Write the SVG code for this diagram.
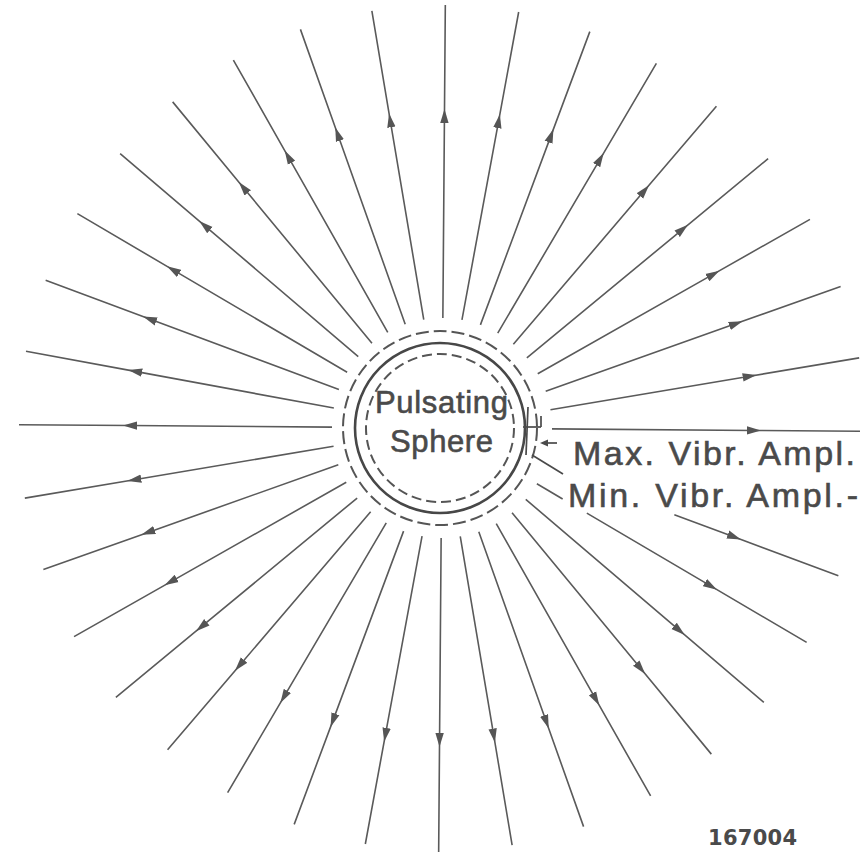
<svg xmlns="http://www.w3.org/2000/svg" width="860" height="852" viewBox="0 0 860 852">
<style>
.ray{fill:none;stroke:#5a5a5a;stroke-width:1.6;marker-mid:url(#ah)}
.seg{fill:none;stroke:#5a5a5a;stroke-width:1.6}
.lbl{font-family:"Liberation Sans",Arial,sans-serif;fill:#4a4a4a;stroke:#4a4a4a;stroke-width:0.6}
.num{font-family:"DejaVu Sans",sans-serif;font-weight:bold;fill:#4a4a4a}
</style>
<defs>
<marker id="ah" viewBox="-7 -4.5 14 9" markerWidth="14" markerHeight="9" refX="0" refY="0" orient="auto" markerUnits="userSpaceOnUse">
<path d="M7,0 L-7,-4.2 L-7,4.2 Z" fill="#555"/>
</marker>
</defs>
<rect width="860" height="852" fill="#fff"/>
<g id="connectors" transform="translate(1,0) rotate(0.45 441 428)">
<path class="ray" d="M551,428 L753,428 L864,428"/>
<path class="ray" d="M674,512.8 L734.2,534.7 L838.5,572.7"/>
<path class="seg" d="M536.3,483 L562.2,498"/>
<path class="ray" d="M586.5,512 L711.2,584 L807.3,639.5"/>
<path class="ray" d="M525.3,498.7 L680,628.6 L765,699.9"/>
<path class="ray" d="M511.7,512.3 L641.6,667 L712.9,752"/>
<path class="ray" d="M496,523.3 L597,698.2 L652.5,794.3"/>
<path class="ray" d="M478.6,531.4 L547.7,721.2 L585.7,825.5"/>
<path class="ray" d="M460.1,536.3 L495.2,735.3 L514.4,844.6"/>
<path class="ray" d="M441,538 L441,740 L441,853"/>
<path class="ray" d="M421.9,536.3 L386.8,735.3 L367.6,844.6"/>
<path class="ray" d="M403.4,531.4 L334.3,721.2 L296.3,825.5"/>
<path class="ray" d="M386,523.3 L285,698.2 L229.5,794.3"/>
<path class="ray" d="M370.3,512.3 L240.4,667 L169.1,752"/>
<path class="ray" d="M356.7,498.7 L202,628.6 L117,699.9"/>
<path class="ray" d="M345.7,483 L170.8,584 L74.7,639.5"/>
<path class="ray" d="M337.6,465.6 L147.8,534.7 L43.5,572.7"/>
<path class="ray" d="M332.7,447.1 L133.7,482.2 L24.4,501.4"/>
<path class="ray" d="M331,428 L129,428 L18,428"/>
<path class="ray" d="M332.7,408.9 L133.7,373.8 L24.4,354.6"/>
<path class="ray" d="M337.6,390.4 L147.8,321.3 L43.5,283.3"/>
<path class="ray" d="M345.7,373 L170.8,272 L74.7,216.5"/>
<path class="ray" d="M356.7,357.3 L202,227.4 L117,156.1"/>
<path class="ray" d="M370.3,343.7 L240.4,189 L169.1,104"/>
<path class="ray" d="M386,332.7 L285,157.8 L229.5,61.7"/>
<path class="ray" d="M403.4,324.6 L334.3,134.8 L296.3,30.5"/>
<path class="ray" d="M421.9,319.7 L386.8,120.7 L367.6,11.4"/>
<path class="ray" d="M441,318 L441,116 L441,5"/>
<path class="ray" d="M460.1,319.7 L495.2,120.7 L514.4,11.4"/>
<path class="ray" d="M478.6,324.6 L547.7,134.8 L585.7,30.5"/>
<path class="ray" d="M496,332.7 L597,157.8 L652.5,61.7"/>
<path class="ray" d="M511.7,343.7 L641.6,189 L712.9,104"/>
<path class="ray" d="M525.3,357.3 L680,227.4 L765,156.1"/>
<path class="ray" d="M536.3,373 L711.2,272 L807.3,216.5"/>
<path class="ray" d="M544.4,390.4 L734.2,321.3 L838.5,283.3"/>
<path class="ray" d="M549.3,408.9 L748.3,373.8 L857.6,354.6"/>
</g>
<g id="sphere">
<circle cx="440" cy="428" r="85" fill="none" stroke="#474747" stroke-width="2.6"/>
<circle cx="440" cy="428" r="74" fill="none" stroke="#555" stroke-width="2" stroke-dasharray="10 5"/>
<circle cx="440" cy="428" r="97" fill="none" stroke="#555" stroke-width="2" stroke-dasharray="13 5"/>
<text class="lbl" x="441.5" y="413" font-size="31" text-anchor="middle" textLength="133" lengthAdjust="spacing">Pulsating</text>
<text class="lbl" x="441.5" y="452" font-size="31" text-anchor="middle" textLength="103" lengthAdjust="spacing">Sphere</text>
</g>
<g id="amplitude-marks" stroke="#4a4a4a" stroke-width="1.7" fill="none">
<line x1="528" y1="407" x2="526" y2="455"/>
<line x1="523" y1="427" x2="541" y2="427"/>
<line x1="541" y1="416" x2="541" y2="427"/>
<line x1="547" y1="443" x2="557" y2="443"/>
<polygon points="540,443 548,439.5 548,446.5" fill="#4a4a4a" stroke="none"/>
<line x1="532" y1="455" x2="563" y2="474"/>
</g>
<g id="label-max">
<text class="lbl" x="573" y="465" font-size="34" textLength="282" lengthAdjust="spacing">Max. Vibr. Ampl.</text>
</g>
<g id="label-min">
<text class="lbl" x="568" y="507" font-size="34" textLength="290" lengthAdjust="spacing">Min. Vibr. Ampl.-</text>
</g>
<g id="figure-number">
<text class="num" x="708" y="845" font-size="21" textLength="89" lengthAdjust="spacing">167004</text>
</g>
</svg>
